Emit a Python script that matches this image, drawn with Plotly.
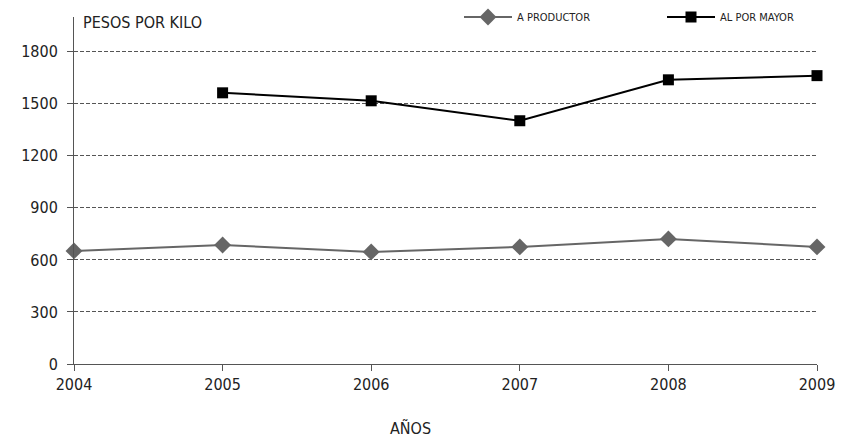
import plotly.graph_objects as go

years = [2004, 2005, 2006, 2007, 2008, 2009]
a_productor = [652, 686, 646, 675, 721, 675]
al_por_mayor_years = [2005, 2006, 2007, 2008, 2009]
al_por_mayor = [1563, 1517, 1402, 1638, 1662]

FONT = "Liberation Sans Narrow, DejaVu Sans Condensed, sans-serif"
# page body has an 8px margin, so the figure is drawn 8px smaller
W, H = 837, 436

fig = go.Figure()
fig.add_trace(go.Scatter(
    x=years, y=a_productor, mode="lines+markers", name="A PRODUCTOR",
    line=dict(color="#666666", width=2),
    marker=dict(symbol="diamond", size=13, color="#666666"),
    cliponaxis=False, legend="legend",
))
fig.add_trace(go.Scatter(
    x=al_por_mayor_years, y=al_por_mayor, mode="lines+markers", name="AL POR MAYOR",
    line=dict(color="#000000", width=2),
    marker=dict(symbol="square", size=11, color="#000000"),
    cliponaxis=False, legend="legend2",
))

legend_style = dict(orientation="h", xref="container", yref="container",
                    yanchor="middle", y=1 - 9 / H, xanchor="left", itemwidth=48,
                    font=dict(size=11, color="#222222"), bgcolor="rgba(0,0,0,0)")

fig.update_layout(
    width=W, height=H,
    margin=dict(l=66, r=28, t=9, b=80, autoexpand=False),
    paper_bgcolor="white", plot_bgcolor="white",
    font=dict(family=FONT, size=16, color="#222222"),
    showlegend=True,
    legend=dict(legend_style, x=451 / W),
    legend2=dict(legend_style, x=654 / W),
    annotations=[
        dict(text="PESOS POR KILO", x=0, y=1, xref="paper", yref="paper",
             xanchor="left", yanchor="middle", xshift=7, yshift=-5,
             showarrow=False, font=dict(size=16, color="#222222")),
        dict(text="AÑOS", x=(410 - 74) / 743, y=0, xref="paper", yref="paper",
             xanchor="center", yanchor="middle", yshift=-64,
             showarrow=False, font=dict(size=16, color="#222222")),
    ],
)
fig.update_xaxes(
    range=[2004, 2009], tickvals=years, showgrid=False, zeroline=False,
    showline=True, linecolor="#555555", linewidth=1, automargin=False,
    ticks="outside", ticklen=6, tickcolor="#555555",
)
fig.update_yaxes(
    range=[0, 2000], tickvals=[0, 300, 600, 900, 1200, 1500, 1800],
    showgrid=True, gridcolor="#555555", griddash="4px,2px", gridwidth=1,
    zeroline=False, showline=True, linecolor="#555555", linewidth=1, automargin=False,
    ticks="outside", ticklen=6, tickcolor="#555555", ticklabelstandoff=6,
)

fig.write_html("out.html")
